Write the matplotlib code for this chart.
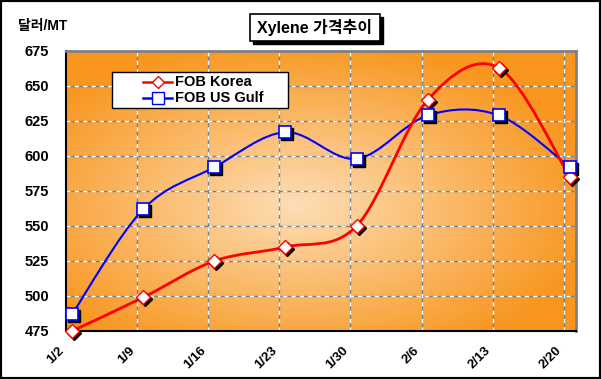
import numpy as np
import matplotlib
matplotlib.use("Agg")
import matplotlib.pyplot as plt
from matplotlib.path import Path
from matplotlib.patches import PathPatch, Rectangle
from matplotlib.lines import Line2D
import matplotlib.transforms as mtransforms

plt.rcParams['font.family'] = ['Liberation Sans', 'Noto Sans CJK KR']
plt.rcParams['font.weight'] = 'bold'

# data
dates = ["1/2", "1/9", "1/16", "1/23", "1/30", "2/6", "2/13", "2/20"]
days = [0, 7, 14, 21, 28, 35, 42, 49]
fob_korea = [475, 499, 525, 535, 550, 640, 663, 585]
fob_usgulf = [487, 562, 592, 617, 598, 629, 629, 592]
yticks = [475, 500, 525, 550, 575, 600, 625, 650, 675]

W, H = 601, 379


def smooth_path(x, y):
    # Excel-style smoothed line: cubic bezier through the points
    x = np.asarray(x, float)
    y = np.asarray(y, float)
    px = np.concatenate([[x[0]], x, [x[-1]]])
    py = np.concatenate([[y[0]], y, [y[-1]]])
    verts = [(x[0], y[0])]
    codes = [Path.MOVETO]
    for i in range(1, len(x)):
        a, b = i, i + 1
        c1 = (px[a] + (px[b] - px[a - 1]) / 6, py[a] + (py[b] - py[a - 1]) / 6)
        c2 = (px[b] - (px[b + 1] - px[a]) / 6, py[b] - (py[b + 1] - py[a]) / 6)
        verts += [c1, c2, (px[b], py[b])]
        codes += [Path.CURVE4] * 3
    return Path(verts, codes)


def fx(p):
    return p / W


def fy(p):
    return 1 - p / H


fig = plt.figure(figsize=(W / 100, H / 100), dpi=100)
fig.patch.set_facecolor('white')
fig.add_artist(Rectangle((0, 0), 1, 1, transform=fig.transFigure, fill=False,
                         edgecolor='black', linewidth=3))

ax = fig.add_axes([fx(66), fy(331), 510 / W, 280 / H])
xmin, xmax = -0.6, 49.6
ax.set_xlim(xmin, xmax)
ax.set_ylim(475, 675)

# radial orange background
gx, gy = np.meshgrid(np.linspace(0, 1, 300), np.linspace(0, 1, 200))
r = np.sqrt(((gx - 0.45) / 0.6) ** 2 + ((gy - 0.45) / 0.6) ** 2)
r = np.clip(r, 0, 1)
c_in = np.array([253, 222, 182]) / 255
c_out = np.array([248, 150, 30]) / 255
img = c_in[None, None, :] * (1 - r[..., None]) + c_out[None, None, :] * r[..., None]
ax.imshow(img, extent=[0, 1, 0, 1], transform=ax.transAxes, aspect='auto',
          origin='lower', zorder=0)

# grid
for yv in yticks[1:-1]:
    ax.axhline(yv, color='#808080', lw=1, zorder=1)
    ax.axhline(yv, color='white', lw=1, ls=(0, (3, 3)), zorder=1)
for d in days[1:]:
    ax.axvline(d + xmin, color='#808080', lw=1, zorder=1)
    ax.axvline(d + xmin, color='white', lw=1, ls=(0, (3, 3)), zorder=1)

# smoothed lines
ax.add_patch(PathPatch(smooth_path(days, fob_usgulf), fill=False, edgecolor='blue', lw=1.5, zorder=3))
ax.add_patch(PathPatch(smooth_path(days, fob_korea), fill=False, edgecolor='red', lw=2, zorder=3))

shadow = mtransforms.offset_copy(ax.transData, fig=fig, x=2, y=-2, units='dots')
ax.plot(days, fob_korea, 'D', ms=7, color='black', transform=shadow, zorder=4, clip_on=False)
ax.plot(days, fob_korea, 'D', ms=7, mfc='white', mec='red', mew=1, zorder=5, clip_on=False)
ax.plot(days, fob_usgulf, 's', ms=9, color='black', transform=shadow, zorder=4, clip_on=False)
ax.plot(days, fob_usgulf, 's', ms=9, mfc='white', mec='blue', mew=1.2, zorder=5, clip_on=False)

ax.set_yticks(yticks)
ax.set_yticklabels([str(v) for v in yticks], fontsize=10.5, fontweight='bold')
ax.tick_params(axis='y', length=0, pad=12)
ax.set_xticks(days)
ax.set_xticklabels(dates, rotation=45, ha='right', va='center', fontsize=9.5, fontweight='bold',
                   rotation_mode='anchor')
ax.tick_params(axis='x', length=0, pad=13)
shift = mtransforms.ScaledTranslation(-10.5 / 100, 0, fig.dpi_scale_trans)
for lab in ax.get_xticklabels():
    lab.set_transform(lab.get_transform() + shift)

for s in ['left', 'bottom']:
    ax.spines[s].set_color('black')
    ax.spines[s].set_linewidth(1.5)
for s in ['top', 'right']:
    ax.spines[s].set_color('#808080')
    ax.spines[s].set_linewidth(2)

# legend box drawn by hand to match the wide frame
fig.add_artist(Rectangle((fx(112), fy(108)), 176 / W, 36 / H, transform=fig.transFigure,
                         facecolor='white', edgecolor='black', lw=1, zorder=10))
legend_rows = [("FOB Korea", 'red', 'D', 6, 82), ("FOB US Gulf", 'blue', 's', 8, 98)]
for label, col, mk, ms, yrow in legend_rows:
    fig.add_artist(Line2D([fx(143), fx(172)], [fy(yrow), fy(yrow)], color=col, lw=1.8,
                          transform=fig.transFigure, zorder=11))
    fig.add_artist(Line2D([fx(157.5)], [fy(yrow)], marker=mk, ms=ms, mfc='white', mec=col,
                          transform=fig.transFigure, zorder=12))
    fig.text(fx(175), fy(yrow), label, ha='left', va='center', fontsize=10.5,
             fontweight='bold', zorder=12)

# title box with shadow
fig.add_artist(Rectangle((fx(253), fy(44)), 130 / W, 27 / H, transform=fig.transFigure,
                         facecolor='black', edgecolor='black', zorder=10))
fig.add_artist(Rectangle((fx(250), fy(41)), 130 / W, 27 / H, transform=fig.transFigure,
                         facecolor='white', edgecolor='black', lw=1.2, zorder=11))
fig.text(fx(315), fy(27.5), "Xylene 가격추이", ha='center', va='center', fontsize=11.5,
         fontweight='bold', color='black', zorder=12)

fig.text(fx(18), fy(26), "달러/MT", ha='left', va='center', fontsize=10, fontweight='bold')

fig.savefig("out.png", dpi=100)
